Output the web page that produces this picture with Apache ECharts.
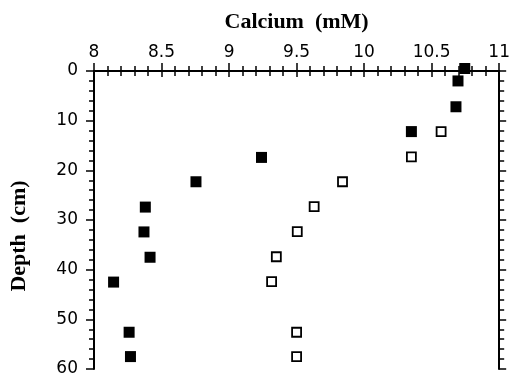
<!DOCTYPE html>
<html>
<head>
<meta charset="utf-8">
<script src="https://cdn.jsdelivr.net/npm/echarts@6/dist/echarts.min.js"></script>
<style>html,body{margin:0;padding:0;background:#fff}#c{width:513px;height:378px}</style>
</head>
<body>
<div id="c"></div>
<script>
var xTicks = [8, 8.5, 9, 9.5, 10, 10.5, 11];
var yTicks = [0, 10, 20, 30, 40, 50, 60];
var depthFilled = [-0.5, 2, 7.2, 12.2, 17.4, 22.3, 27.4, 32.4, 37.5, 42.5, 52.6, 57.5];
var calciumFilled = [10.745, 10.695, 10.68, 10.35, 9.24, 8.755, 8.38, 8.37, 8.415, 8.145, 8.26, 8.27];
var depthOpen = [12.2, 17.3, 22.3, 27.3, 32.35, 37.4, 42.4, 52.6, 57.5];
var calciumOpen = [10.57, 10.35, 9.84, 9.63, 9.505, 9.35, 9.315, 9.5, 9.5];

function pairs(xs, ys){ return xs.map(function(v,i){ return [v, ys[i]]; }); }

var tickFont = {fontFamily: 'DejaVu Sans', fontSize: 17, color: '#000'};
var lineStyle = {color: '#000', width: 2};
var tickLine = {color: '#000', width: 1.5};

var chart = echarts.init(document.getElementById('c'), null, {renderer: 'canvas'});
chart.setOption({
  animation: false,
  backgroundColor: '#fff',
  grid: {left: 94, right: 11, top: 71, bottom: 9, containLabel: false},
  xAxis: [{
    type: 'value', position: 'top', min: xTicks[0], max: xTicks[xTicks.length-1], interval: 0.5,
    name: 'Calcium  (mM)', nameLocation: 'middle', nameGap: 38,
    nameTextStyle: {fontFamily: 'Liberation Serif', fontWeight: 'bold', fontSize: 22, color: '#000'},
    axisLine: {show: true, lineStyle: lineStyle},
    axisTick: {show: true, length: 8, inside: false, lineStyle: tickLine},
    minorTick: {show: true, splitNumber: 5, length: 5, lineStyle: tickLine},
    axisLabel: Object.assign({margin: 10, formatter: function(v){ return String(v); }}, tickFont),
    splitLine: {show: false}
  }, {
    type: 'value', position: 'bottom', min: xTicks[0], max: xTicks[xTicks.length-1], interval: 0.5,
    axisLine: {show: true, lineStyle: lineStyle},
    axisTick: {show: true, length: 6, inside: false, lineStyle: tickLine},
    minorTick: {show: true, splitNumber: 5, length: 5, lineStyle: tickLine},
    axisLabel: {show: false}, splitLine: {show: false}
  }],
  yAxis: [{
    type: 'value', position: 'left', inverse: true, min: yTicks[0], max: yTicks[yTicks.length-1], interval: 10,
    name: 'Depth  (cm)', nameLocation: 'middle', nameGap: 64, nameRotate: 90,
    nameTextStyle: {fontFamily: 'Liberation Serif', fontWeight: 'bold', fontSize: 22, color: '#000', padding: [0, 32, 0, 0]},
    axisLine: {show: true, lineStyle: lineStyle},
    axisTick: {show: true, length: 8, inside: false, lineStyle: tickLine},
    minorTick: {show: true, splitNumber: 5, length: 5, lineStyle: tickLine},
    axisLabel: Object.assign({margin: 16}, tickFont),
    splitLine: {show: false}
  }, {
    type: 'value', position: 'right', inverse: true, min: yTicks[0], max: yTicks[yTicks.length-1], interval: 10,
    axisLine: {show: true, lineStyle: lineStyle},
    axisTick: {show: true, length: 7, inside: false, lineStyle: tickLine},
    minorTick: {show: true, splitNumber: 5, length: 5, lineStyle: tickLine},
    axisLabel: {show: false}, splitLine: {show: false}
  }],
  series: [{
    type: 'scatter', xAxisIndex: 0, yAxisIndex: 0, clip: false,
    symbol: 'rect', symbolSize: 11,
    itemStyle: {color: '#000', opacity: 1},
    emphasis: {disabled: true},
    data: pairs(calciumFilled, depthFilled)
  }, {
    type: 'scatter', xAxisIndex: 0, yAxisIndex: 0, clip: false,
    symbol: 'rect', symbolSize: 9,
    itemStyle: {color: '#fff', borderColor: '#000', borderWidth: 1.8, opacity: 1},
    emphasis: {disabled: true},
    data: pairs(calciumOpen, depthOpen)
  }]
});
</script>
</body>
</html>
